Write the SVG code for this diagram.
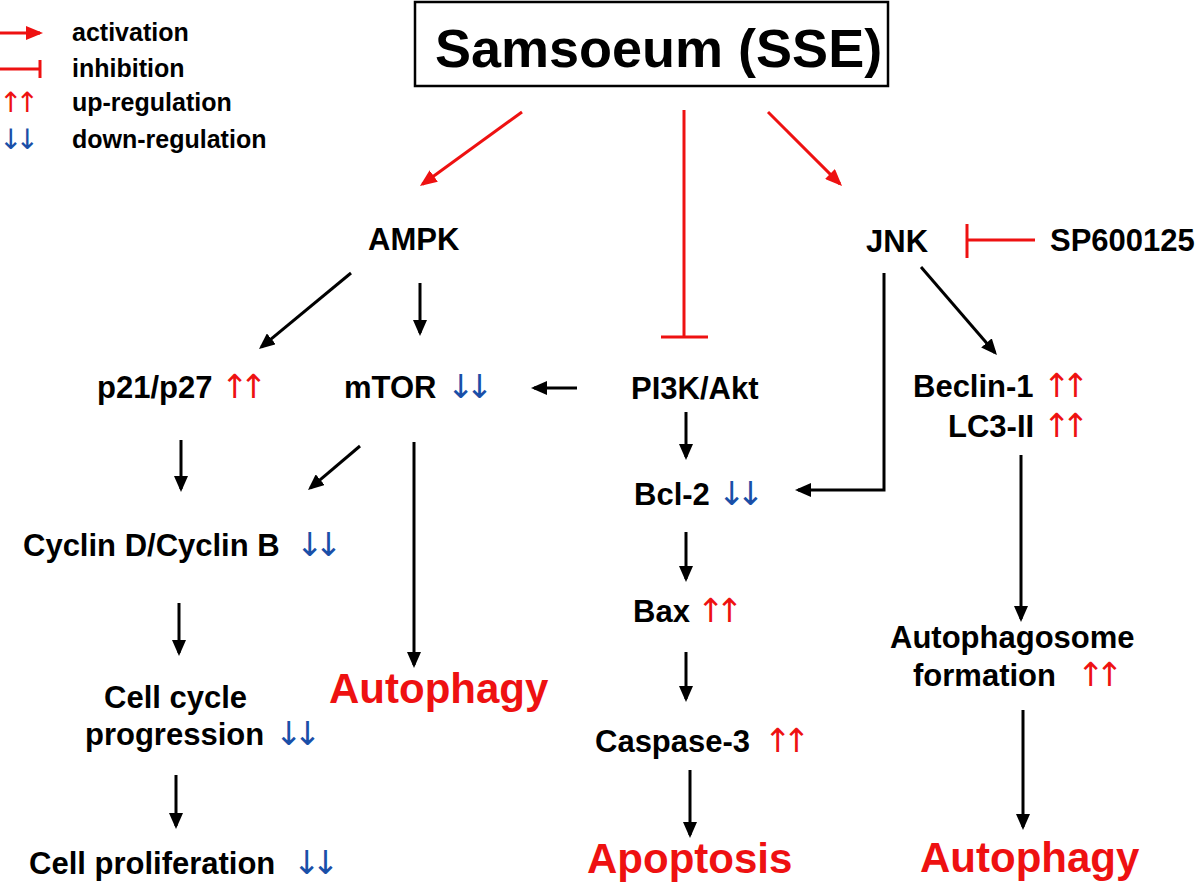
<svg xmlns="http://www.w3.org/2000/svg" width="1200" height="887" viewBox="0 0 1200 887">
<style>
text { font-family: "Liberation Sans", Arial, Helvetica, sans-serif; font-weight: bold; fill: #000; }
.n { font-size: 31px; }
.lg { font-size: 25px; }
.out { font-size: 42px; fill: #ee1111; }
.title { font-size: 54px; }
.up, .dn { font-family: "DejaVu Sans", sans-serif; font-weight: normal; font-size: 33px; letter-spacing: -9px; }
.up { fill: #ee1111; }
.dn { fill: #1a4fa8; }
.lgs { font-size: 28px; letter-spacing: -7px; }
.k { stroke: #000; stroke-width: 3; fill: none; }
.r { stroke: #ee1111; stroke-width: 3; fill: none; }
.ka { marker-end: url(#ah); }
.ra { marker-end: url(#rh); }
</style>
<defs>
<marker id="ah" markerUnits="userSpaceOnUse" markerWidth="16" markerHeight="14" refX="13" refY="7" orient="auto">
<path d="M0,0 L16,7 L0,14 z" fill="#000"/>
</marker>
<marker id="rh" markerUnits="userSpaceOnUse" markerWidth="17" markerHeight="14" refX="14" refY="7" orient="auto">
<path d="M0,0 L17,7 L0,14 z" fill="#ee1111"/>
</marker>
</defs>
<rect width="1200" height="887" fill="#fff"/>

<g id="legend">
<line class="r ra" x1="0" y1="33" x2="40" y2="33"/>
<text class="lg" x="72" y="41">activation</text>
<line class="r" x1="0" y1="69" x2="40" y2="69"/>
<line class="r" x1="40" y1="60" x2="40" y2="78"/>
<text class="lg" x="72" y="77">inhibition</text>
<text class="up lgs" x="-1" y="112">↑↑</text>
<text class="lg" x="72" y="111">up-regulation</text>
<text class="dn lgs" x="-1" y="149">↓↓</text>
<text class="lg" x="72" y="148">down-regulation</text>
</g>

<g id="connectors">
<line class="r ra" x1="522" y1="112" x2="422.4" y2="184.2"/>
<line class="r ra" x1="768" y1="112" x2="839.9" y2="183.9"/>
<line class="r" x1="684" y1="110" x2="684" y2="337"/>
<line class="r" x1="661" y1="337" x2="708" y2="337"/>
<line class="r" x1="1035" y1="240" x2="967" y2="240"/>
<line class="r" x1="967" y1="224" x2="967" y2="258"/>
<line class="k ka" x1="351" y1="273" x2="261.3" y2="347.1"/>
<line class="k ka" x1="420" y1="283" x2="420" y2="333"/>
<line class="k ka" x1="577" y1="388" x2="534" y2="388"/>
<line class="k ka" x1="181" y1="440" x2="181" y2="489"/>
<line class="k ka" x1="360" y1="446" x2="310.3" y2="488.1"/>
<line class="k ka" x1="414" y1="442" x2="414" y2="665"/>
<line class="k ka" x1="686" y1="412" x2="686" y2="457"/>
<path class="k ka" d="M884,273 V490 H798"/>
<line class="k ka" x1="921" y1="267" x2="995" y2="352.7"/>
<line class="k ka" x1="1021" y1="455" x2="1021" y2="619"/>
<line class="k ka" x1="179" y1="603" x2="179" y2="653"/>
<line class="k ka" x1="686" y1="532" x2="686" y2="579"/>
<line class="k ka" x1="686" y1="652" x2="686" y2="699"/>
<line class="k ka" x1="176" y1="775" x2="176" y2="826"/>
<line class="k ka" x1="690" y1="770" x2="690" y2="835"/>
<line class="k ka" x1="1023" y1="710" x2="1023" y2="827"/>
</g>

<g id="sse">
<rect x="415" y="2" width="473" height="84" fill="#fff" stroke="#000" stroke-width="2.5"/>
<text class="title" x="435" y="67">Samsoeum (SSE)</text>
</g>
<g id="ampk"><text class="n" x="368" y="250">AMPK</text></g>
<g id="jnk"><text class="n" x="866" y="252">JNK</text></g>
<g id="sp600125"><text class="n" x="1050" y="251">SP600125</text></g>
<g id="p21"><text class="n" x="97" y="398">p21/p27<tspan class="up" x="221">↑↑</tspan></text></g>
<g id="mtor"><text class="n" x="344" y="398">mTOR<tspan class="dn" x="447">↓↓</tspan></text></g>
<g id="pi3k"><text class="n" x="631" y="399">PI3K/Akt</text></g>
<g id="beclin"><text class="n" x="913" y="397">Beclin-1<tspan class="up" x="1043">↑↑</tspan></text></g>
<g id="lc3"><text class="n" x="948" y="437">LC3-II<tspan class="up" x="1043">↑↑</tspan></text></g>
<g id="bcl2"><text class="n" x="634" y="505">Bcl-2<tspan class="dn" x="718">↓↓</tspan></text></g>
<g id="cyclin"><text class="n" x="23" y="556">Cyclin D/Cyclin B<tspan class="dn" x="296">↓↓</tspan></text></g>
<g id="bax"><text class="n" x="633" y="622">Bax<tspan class="up" x="697">↑↑</tspan></text></g>
<g id="autophagosome">
<text class="n" x="890" y="648">Autophagosome</text>
<text class="n" x="913" y="686">formation<tspan class="up" x="1077">↑↑</tspan></text>
</g>
<g id="autophagy1"><text class="out" x="329" y="703">Autophagy</text></g>
<g id="cellcycle">
<text class="n" x="104" y="708">Cell cycle</text>
<text class="n" x="85" y="745">progression<tspan class="dn" x="275">↓↓</tspan></text>
</g>
<g id="caspase3"><text class="n" x="595" y="752">Caspase-3<tspan class="up" x="764">↑↑</tspan></text></g>
<g id="cellprolif"><text class="n" x="29" y="874">Cell proliferation<tspan class="dn" x="293">↓↓</tspan></text></g>
<g id="apoptosis"><text class="out" x="587" y="873">Apoptosis</text></g>
<g id="autophagy2"><text class="out" x="920" y="872">Autophagy</text></g>
</svg>
